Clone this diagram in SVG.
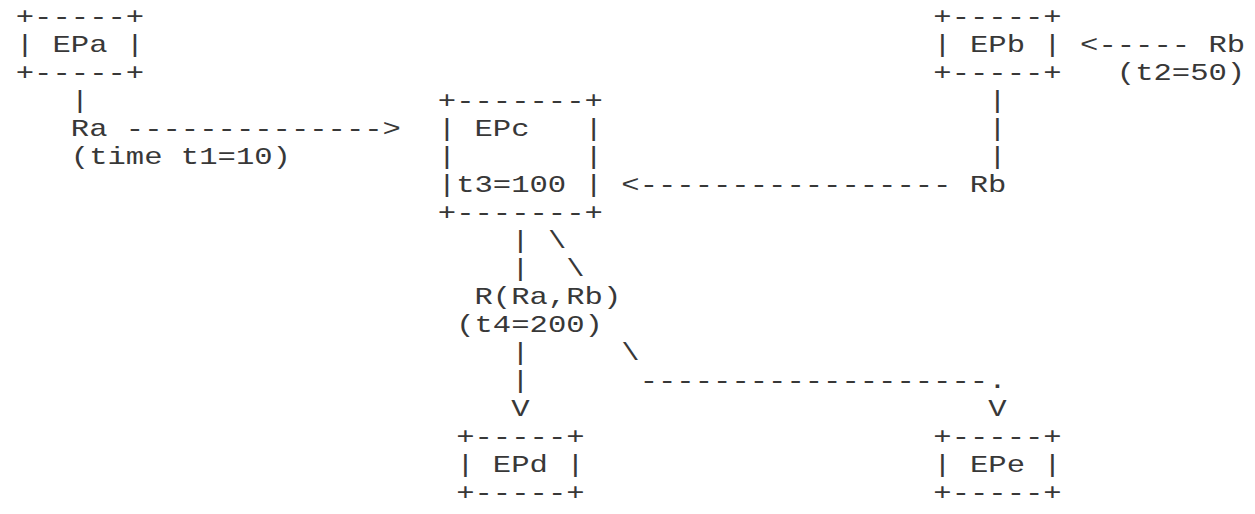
<svg xmlns="http://www.w3.org/2000/svg" width="1255" height="514" viewBox="0 0 1255 514" xml:space="preserve">
<style>
  text { font-family: "Liberation Mono", "DejaVu Sans Mono", monospace; font-size: 24px; fill: #383838; white-space: pre; }
</style>
<rect x="0" y="0" width="1255" height="514" fill="#ffffff"/>
<g transform="scale(1.2743 1)">
  <g id="EPa">
    <text x="12.4" y="24">+-----+</text>
    <text x="12.4" y="52">| EPa |</text>
    <text x="12.4" y="80">+-----+</text>
  </g>
  <g id="EPb">
    <text x="732.4" y="24">+-----+</text>
    <text x="732.4" y="52">| EPb |</text>
    <text x="732.4" y="80">+-----+</text>
  </g>
  <g id="EPc">
    <text x="343.6" y="108">+-------+</text>
    <text x="343.6" y="136">| EPc   |</text>
    <text x="343.6" y="164">|       |</text>
    <text x="343.6" y="192">|t3=100 |</text>
    <text x="343.6" y="220">+-------+</text>
  </g>
  <g id="EPd">
    <text x="358" y="444">+-----+</text>
    <text x="358" y="472">| EPd |</text>
    <text x="358" y="500">+-----+</text>
  </g>
  <g id="EPe">
    <text x="732.4" y="444">+-----+</text>
    <text x="732.4" y="472">| EPe |</text>
    <text x="732.4" y="500">+-----+</text>
  </g>
  <g id="connectors">
    <text x="847.6" y="52">&lt;----- Rb</text>
    <text x="876.4" y="80">(t2=50)</text>
    <text x="55.6" y="108">|</text>
    <text x="775.6" y="108">|</text>
    <text x="55.6" y="136">Ra --------------&gt;</text>
    <text x="775.6" y="136">|</text>
    <text x="55.6" y="164">(time t1=10)</text>
    <text x="775.6" y="164">|</text>
    <text x="487.6" y="192">&lt;----------------- Rb</text>
    <text x="401.2" y="248">|</text>
    <text x="430" y="248">\</text>
    <text x="401.2" y="276">|</text>
    <text x="444.4" y="276">\</text>
    <text x="372.4" y="304">R(Ra,Rb)</text>
    <text x="358" y="332">(t4=200)</text>
    <text x="401.2" y="360">|</text>
    <text x="487.6" y="360">\</text>
    <text x="401.2" y="388">|</text>
    <text x="502" y="388">-------------------.</text>
    <text x="401.2" y="416">V</text>
    <text x="775.6" y="416">V</text>
  </g>
</g>
</svg>
